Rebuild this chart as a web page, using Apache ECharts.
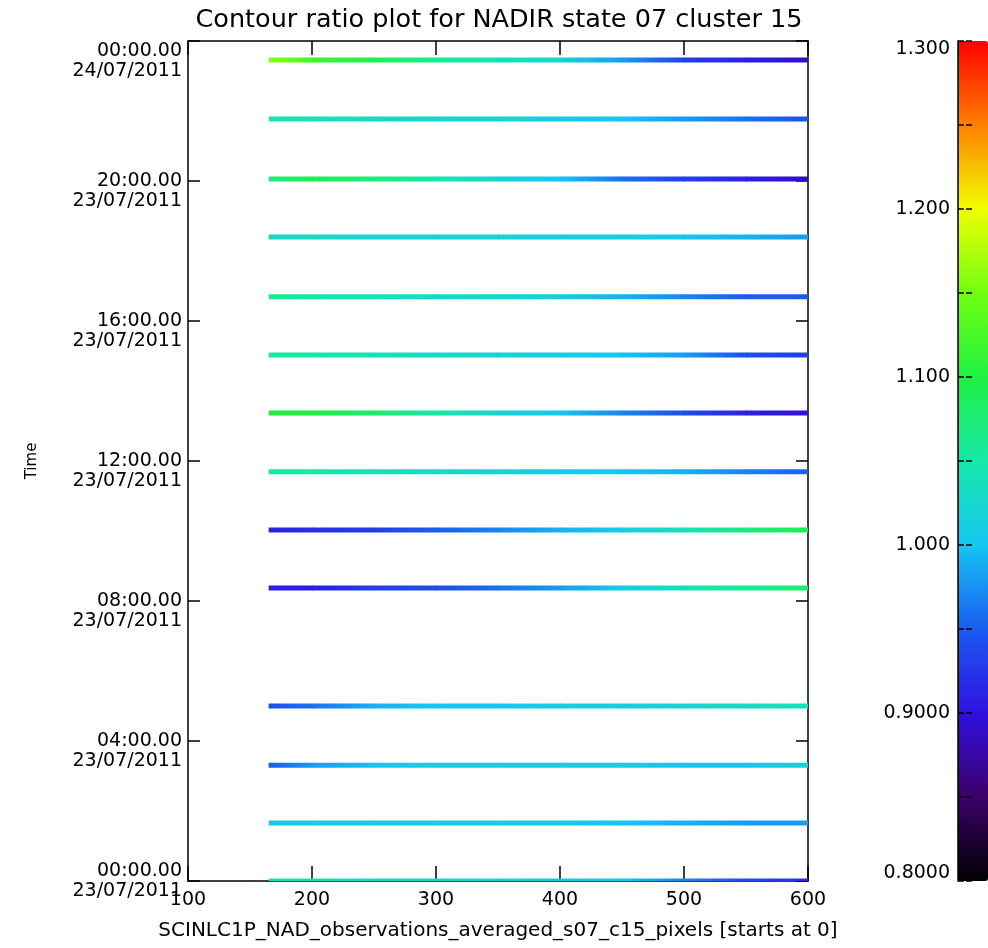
<!DOCTYPE html>
<html><head><meta charset="utf-8">
<script src="https://cdn.jsdelivr.net/npm/echarts@6/dist/echarts.min.js"></script>
<style>html,body{margin:0;padding:0;background:#fff}#c{width:988px;height:948px}</style>
</head><body><div id="c"></div>
<script>
// ---- data ----
const pixelX = [165, 200, 250, 300, 350, 400, 450, 500, 550, 600];
const orbitHours = [23.46, 21.77, 20.06, 18.40, 16.69, 15.03, 13.37, 11.69, 10.03, 8.37, 5.00, 3.31, 1.66, 0.00];
const ratio01 = [1.16, 1.12, 1.09, 1.06, 1.04, 1.02, 0.98, 0.93, 0.91, 0.89];
const ratio02 = [1.05, 1.04, 1.03, 1.02, 1.02, 1.01, 1.00, 0.98, 0.96, 0.94];
const ratio03 = [1.07, 1.09, 1.07, 1.05, 1.02, 1.00, 0.96, 0.93, 0.91, 0.89];
const ratio04 = [1.03, 1.03, 1.02, 1.02, 1.02, 1.01, 1.01, 1.00, 0.99, 0.98];
const ratio05 = [1.06, 1.05, 1.04, 1.03, 1.02, 1.01, 0.99, 0.97, 0.95, 0.95];
const ratio06 = [1.05, 1.05, 1.04, 1.03, 1.02, 1.01, 1.00, 0.98, 0.94, 0.93];
const ratio07 = [1.10, 1.10, 1.08, 1.05, 1.02, 1.00, 0.97, 0.94, 0.91, 0.90];
const ratio08 = [1.05, 1.05, 1.04, 1.03, 1.02, 1.01, 1.00, 0.99, 0.97, 0.95];
const ratio09 = [0.91, 0.92, 0.93, 0.95, 0.97, 0.99, 1.01, 1.04, 1.07, 1.09];
const ratio10 = [0.91, 0.91, 0.93, 0.94, 0.96, 0.98, 1.01, 1.04, 1.06, 1.08];
const ratio11 = [0.94, 0.96, 0.99, 1.00, 1.00, 1.01, 1.01, 1.02, 1.03, 1.04];
const ratio12 = [0.95, 0.98, 1.00, 1.01, 1.01, 1.01, 1.01, 1.00, 1.00, 1.02];
const ratio13 = [1.01, 1.01, 1.01, 1.01, 1.01, 1.01, 1.00, 0.99, 0.98, 0.98];
const ratio14 = [1.04, 1.04, 1.03, 1.03, 1.02, 1.01, 1.00, 0.97, 0.94, 0.92];
const ratioRows = [ratio01, ratio02, ratio03, ratio04, ratio05, ratio06, ratio07,
                   ratio08, ratio09, ratio10, ratio11, ratio12, ratio13, ratio14];

const yTickTimes = ['00:00.00', '04:00.00', '08:00.00', '12:00.00', '16:00.00', '20:00.00', '00:00.00'];
const yTickDates = ['23/07/2011', '23/07/2011', '23/07/2011', '23/07/2011', '23/07/2011', '23/07/2011', '24/07/2011'];
const cbarLabels = ['0.8000', '0.9000', '1.000', '1.100', '1.200', '1.300'];

const titleText = 'Contour ratio plot for NADIR state 07 cluster 15';
const xName = 'SCINLC1P_NAD_observations_averaged_s07_c15_pixels [starts at 0]';
const yName = 'Time';

const cmapMin = 0.8, cmapMax = 1.3;
const cmapColors = ['#000000', '#3c0068', '#3010e0', '#1a5cf0', '#16c6f2', '#16e8a8',
                    '#20f040', '#70ff10', '#f0ff00', '#ff8000', '#ff0000'];

// ---- helpers ----
function hex2rgb(h) { return [parseInt(h.substr(1, 2), 16), parseInt(h.substr(3, 2), 16), parseInt(h.substr(5, 2), 16)]; }
const cmapRGB = cmapColors.map(hex2rgb);
function cmap(v) {
  let t = (v - cmapMin) / (cmapMax - cmapMin);
  t = Math.max(0, Math.min(1, t));
  const f = t * (cmapRGB.length - 1);
  const i = Math.min(cmapRGB.length - 2, Math.floor(f));
  const u = f - i;
  const a = cmapRGB[i], b = cmapRGB[i + 1];
  const c = [0, 1, 2].map(k => Math.round(a[k] + (b[k] - a[k]) * u));
  return 'rgb(' + c.join(',') + ')';
}

const segments = [];
ratioRows.forEach((row, r) => {
  for (let i = 0; i < pixelX.length - 1; i++) {
    segments.push([pixelX[i], pixelX[i + 1], orbitHours[r], row[i], row[i + 1]]);
  }
});

const FONT = 'DejaVu Sans';
const black = '#000';
function frameLine() { return { show: true, onZero: false, lineStyle: { color: black, width: 1.5 } }; }
function tick(len) { return { show: true, inside: true, length: len, lineStyle: { color: black, width: 1.5 } }; }

const chart = echarts.init(document.getElementById('c'), null, { renderer: 'canvas' });
chart.setOption({
  backgroundColor: '#fff',
  animation: false,
  title: {
    text: titleText, left: 499, top: 7, textAlign: 'center', padding: 0,
    textStyle: { fontFamily: FONT, fontSize: 25.5, fontWeight: 'normal', color: black }
  },
  grid: [
    { left: 188, top: 41, width: 620, height: 840 },
    { left: 958, top: 41, width: 10, height: 840 },
    { left: 972, top: 41, width: 16, height: 840 }
  ],
  xAxis: [
    {
      gridIndex: 0, type: 'value', position: 'bottom', min: 100, max: 600, interval: 100,
      name: xName, nameLocation: 'middle', nameGap: 40,
      nameTextStyle: { fontFamily: FONT, fontSize: 20, color: black },
      axisLine: frameLine(), axisTick: tick(15),
      axisLabel: { fontFamily: FONT, fontSize: 19, color: black, margin: 10, showMinLabel: true, showMaxLabel: true },
      splitLine: { show: false }
    },
    {
      gridIndex: 0, type: 'value', position: 'top', min: 100, max: 600, interval: 100,
      axisLine: frameLine(), axisTick: tick(14),
      axisLabel: { show: false }, splitLine: { show: false }
    },
    { gridIndex: 1, type: 'value', min: 0, max: 1, show: false },
    { gridIndex: 2, type: 'value', min: 0, max: 1, show: false }
  ],
  yAxis: [
    {
      gridIndex: 0, type: 'value', position: 'left', min: 0, max: 24, interval: 4,
      name: yName, nameLocation: 'middle', nameGap: 148,
      nameTextStyle: { fontFamily: FONT, fontSize: 15, color: black },
      axisLine: frameLine(), axisTick: tick(12),
      axisLabel: {
        fontFamily: FONT, fontSize: 19, color: black, margin: 6, lineHeight: 20,
        showMinLabel: true, showMaxLabel: true,
        formatter: v => {
          const i = Math.round(v / 4);
          const s = yTickTimes[i] + '\n' + yTickDates[i];
          if (i === yTickTimes.length - 1) return '\n\n' + s;
          if (i === 0) return s;
          return '\n' + s;
        }
      },
      splitLine: { show: false }
    },
    {
      gridIndex: 0, type: 'value', position: 'right', min: 0, max: 24, interval: 4,
      axisLine: frameLine(), axisTick: tick(12),
      axisLabel: { show: false }, splitLine: { show: false }
    },
    {
      gridIndex: 1, type: 'value', position: 'left', min: 0.8, max: 1.3, interval: 0.05, z: 10,
      axisLine: frameLine(), axisTick: tick(6),
      axisLabel: {
        fontFamily: FONT, fontSize: 19, color: black, margin: 8, lineHeight: 16,
        showMinLabel: true, showMaxLabel: true,
        formatter: v => {
          const k = Math.round((v - 0.8) / 0.05);
          if (k % 2) return '';
          const i = k / 2;
          const s = cbarLabels[i];
          if (i === cbarLabels.length - 1) return '\n' + s;
          if (i === 0) return s + '\n';
          return s;
        }
      },
      splitLine: { show: false }
    },
    {
      gridIndex: 2, type: 'value', position: 'right', min: 0.8, max: 1.3, interval: 0.05, z: 10,
      axisLine: { show: false }, axisTick: tick(6),
      axisLabel: { show: false }, splitLine: { show: false }
    }
  ],
  visualMap: {
    type: 'continuous', min: cmapMin, max: cmapMax, dimension: 3, seriesIndex: 0, z: 2,
    left: 958, top: 41, itemWidth: 30, itemHeight: 840, padding: 0,
    calculable: false, hoverLink: false, realtime: false,
    inRange: { color: cmapColors }
  },
  series: [{
    type: 'custom', xAxisIndex: 0, yAxisIndex: 0, clip: true,
    encode: { x: [0, 1], y: 2 },
    data: segments,
    renderItem: (params, api) => {
      const t = api.value(2);
      const p0 = api.coord([api.value(0), t]);
      const p1 = api.coord([api.value(1), t]);
      const h = 5;
      return {
        type: 'rect',
        shape: { x: p0[0], y: p0[1] - h / 2, width: p1[0] - p0[0] + 0.7, height: h },
        style: {
          fill: new echarts.graphic.LinearGradient(0, 0, 1, 0, [
            { offset: 0, color: cmap(api.value(3)) },
            { offset: 1, color: cmap(api.value(4)) }
          ])
        }
      };
    }
  }]
});
</script>
</body></html>
